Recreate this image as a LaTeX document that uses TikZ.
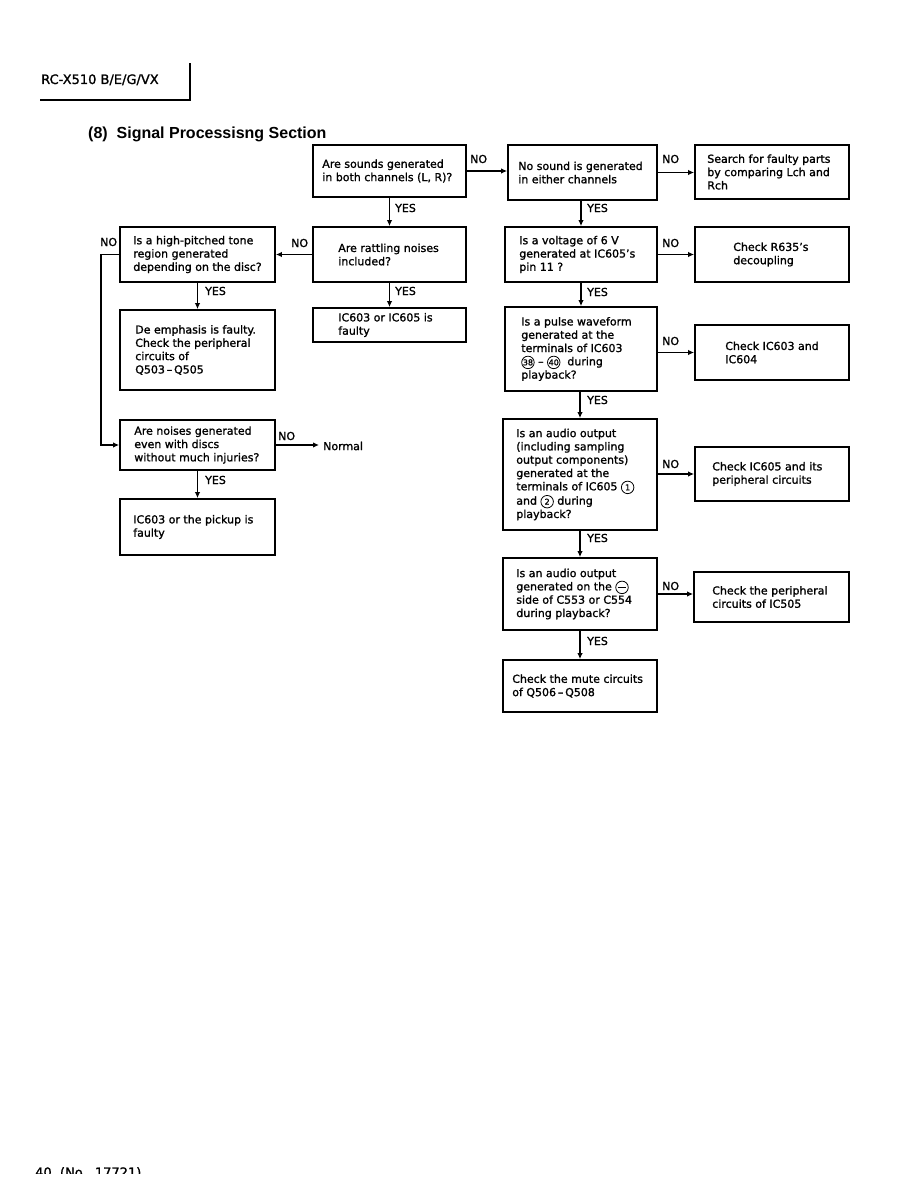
\documentclass[tikz,border=0pt]{standalone}
\usepackage{fontspec}
\setmainfont{DejaVu Sans}[FakeBold=1.3]
\newfontfamily\titlefont{Liberation Sans}
\usetikzlibrary{arrows.meta}
\newcommand{\cnum}[1]{\tikz[baseline=(cc.base)]\node[draw,circle,line width=0.8pt,inner sep=0pt,minimum size=12.5pt,font=\fontsize{8}{8}\selectfont](cc){#1};}
\newcommand{\cminus}{\tikz[baseline={([yshift=-3pt]cm.center)}]{\node[draw,circle,line width=0.8pt,inner sep=0pt,minimum size=12.5pt](cm){};\draw[line width=0.9pt] ([xshift=2.2pt]cm.west) -- ([xshift=-2.2pt]cm.east);}}
\newcommand{\mkbox}[7]{%
  \node[box,minimum width=#4-#2,minimum height=#5-#3] (#1) at ({(#2+#4)/2},{(#3+#5)/2}) {};
  \node[txt] (#1t) at ([xshift=#6]#1.west) {#7};}
\begin{document}
\begin{tikzpicture}[x=1pt,y=-1pt,
  box/.style={draw,line width=1.8pt,inner sep=0pt},
  txt/.style={anchor=west,align=left,inner sep=0pt,font=\fontsize{11}{13.3}\selectfont},
  lbl/.style={anchor=west,inner sep=0pt,font=\fontsize{11}{13}\selectfont},
  arr/.style={line width=1.8pt,-{Latex[length=6pt,width=5.5pt]}},
  ln/.style={line width=1.3pt}]
\useasboundingbox (0,0) rectangle (918,1188);
\fill[white] (0,0) rectangle (918,1188);

% header
\node[anchor=base west,inner sep=0pt,font=\fontsize{13}{13}\selectfont] (hdr) at (41,84) {RC-X510 B/E/G/VX};
\coordinate (h1) at (40,100);
\coordinate (h2) at (190,100);
\coordinate (h3) at (190,63);
\draw[ln] (h1) -- (h2) -- (h3);
\node[anchor=base west,inner sep=0pt,font=\titlefont\bfseries\fontsize{16}{16}\selectfont] (title) at (88,139) {(8)\ \ Signal Processisng Section};

% boxes
\mkbox{A}{313}{145}{466}{197}{10}{Are sounds generated\\in both channels (L, R)?}
\mkbox{B}{508}{145}{657}{200}{11}{No sound is generated\\in either channels}
\mkbox{C}{695}{145}{849}{199}{13}{Search for faulty parts\\by comparing Lch and\\Rch}
\mkbox{D}{120}{227}{275}{282}{14}{Is a high-pitched tone\\region generated\\depending on the disc?}
\mkbox{E}{313}{227}{466}{282}{26}{Are rattling noises\\included?}
\mkbox{F}{505}{227}{657}{282}{15}{Is a voltage of 6 V\\generated at IC605's\\pin 11 ?}
\mkbox{G}{695}{227}{849}{282}{39}{Check R635's\\decoupling}
\mkbox{H}{120}{310}{275}{390}{16}{De emphasis is faulty.\\Check the peripheral\\circuits of\\Q503\,--\,Q505}
\mkbox{I}{313}{308}{466}{342}{26}{IC603 or IC605 is\\faulty}
\mkbox{J}{505}{307}{657}{391}{17}{Is a pulse waveform\\generated at the\\terminals of IC603\\\cnum{38}\ -- \cnum{40}\ \ during\\playback?}
\mkbox{K}{695}{325}{849}{380}{31}{Check IC603 and\\IC604}
\mkbox{L}{120}{420}{275}{470}{15}{Are noises generated\\even with discs\\without much injuries?}
\mkbox{M}{120}{499}{275}{555}{14}{IC603 or the pickup is\\faulty}
\mkbox{N}{503}{419}{657}{530}{14}{Is an audio output\\(including sampling\\output components)\\generated at the\\terminals of IC605 \cnum{1}\\and \cnum{2} during\\playback?}
\mkbox{O}{695}{447}{849}{501}{18}{Check IC605 and its\\peripheral circuits}
\mkbox{P}{503}{558}{657}{630}{14}{Is an audio output\\generated on the \cminus\\side of C553 or C554\\during playback?}
\mkbox{Q}{694}{572}{849}{622}{19}{Check the peripheral\\circuits of IC505}
\mkbox{R}{503}{660}{657}{712}{10}{Check the mute circuits\\of Q506\,--\,Q508}

\node[anchor=west,inner xsep=4pt,inner ysep=0pt,font=\fontsize{11}{13}\selectfont] (nrm) at (319,446) {Normal};

% connectors
\draw[arr] (A.east) -- (A.east -| B.west);
\draw[arr] (B.east) -- (B.east -| C.west);
\draw[arr] (A.south) -- (E.north);
\draw[arr] (F.north |- B.south) -- (F.north);
\draw[arr] (E.west) -- (E.west -| D.east);
\draw[arr] (F.east) -- (F.east -| G.west);
\draw[arr] (D.south) -- (H.north);
\draw[arr] (E.south) -- (I.north);
\draw[arr] (F.south) -- (J.north);
\draw[arr] (K.west -| J.east) -- (K.west);
\draw[arr] (D.west) -- ++(-18,0) |- (L.west);
\draw[arr] (L.east) -- (L.east -| nrm.west);
\draw[arr] (L.south) -- (M.north);
\draw[arr] (N.north |- J.south) -- (N.north);
\draw[arr] (O.west -| N.east) -- (O.west);
\draw[arr] (N.south) -- (P.north);
\draw[arr] (P.east) -- (P.east -| Q.west);
\draw[arr] (P.south) -- (R.north);

% labels
\node[lbl] (n1) at (470,159) {NO};
\node[lbl] (n2) at (662,159) {NO};
\node[lbl] (n3) at (291,243) {NO};
\node[lbl] (n4) at (662,243) {NO};
\node[lbl] (n5) at (662,341) {NO};
\node[lbl] (n6) at (662,464) {NO};
\node[lbl] (n7) at (662,586) {NO};
\node[lbl] (n8) at (100,242) {NO};
\node[lbl] (n9) at (278,436) {NO};
\node[lbl] (y1) at (395,208) {YES};
\node[lbl] (y2) at (587,208) {YES};
\node[lbl] (y3) at (205,291) {YES};
\node[lbl] (y4) at (395,291) {YES};
\node[lbl] (y5) at (587,292) {YES};
\node[lbl] (y6) at (587,400) {YES};
\node[lbl] (y7) at (205,480) {YES};
\node[lbl] (y8) at (587,538) {YES};
\node[lbl] (y9) at (587,641) {YES};

% footer (cut off as in the scan)
\begin{scope}
\clip (0,0) rectangle (918,1173);
\node[anchor=base west,inner sep=0pt,font=\fontsize{13}{13}\selectfont] (ft) at (35,1177) {40\ \ (No.\ \ 17721)};
\end{scope}
\end{tikzpicture}
\end{document}
